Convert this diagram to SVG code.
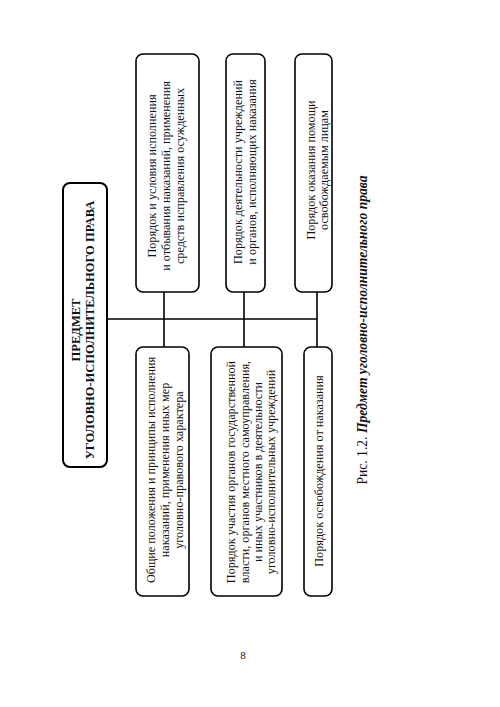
<svg xmlns="http://www.w3.org/2000/svg" width="500" height="707" viewBox="0 0 500 707">
<style>
.box{fill:#fff;stroke:#000;stroke-width:1.6}
.main{fill:#fff;stroke:#000;stroke-width:2}
.t{font-family:"Liberation Serif","Times New Roman",serif;font-size:12.2px;fill:#111;text-anchor:middle;dominant-baseline:central}
.b{font-weight:bold;font-size:12.5px}
.ln{stroke:#000;stroke-width:1.6;fill:none}
</style>
<rect width="500" height="707" fill="#fff"/>
<g id="connectors">
<line class="ln" x1="107" y1="319" x2="317" y2="319"/>
<line class="ln" x1="164" y1="292" x2="164" y2="347"/>
<line class="ln" x1="244" y1="292" x2="244" y2="347"/>
<line class="ln" x1="317" y1="292" x2="317" y2="347"/>
</g>
<g id="main">
<rect class="main" x="63" y="183" width="44" height="284" rx="7"/>
<text class="t b" transform="translate(83,330) rotate(-90)"><tspan x="0" y="-7">ПРЕДМЕТ</tspan><tspan x="0" y="7">УГОЛОВНО-ИСПОЛНИТЕЛЬНОГО ПРАВА</tspan></text>
</g>
<g id="top1">
<rect class="box" x="136" y="54" width="63" height="238" rx="7"/>
<text class="t" transform="translate(166,176) rotate(-90)"><tspan x="0" y="-14">Порядок и условия исполнения</tspan><tspan x="0" y="0">и отбывания наказаний, применения</tspan><tspan x="0" y="14">средств исправления осужденных</tspan></text>
</g>
<g id="top2">
<rect class="box" x="226" y="54" width="39" height="238" rx="7"/>
<text class="t" transform="translate(245,172) rotate(-90)"><tspan x="0" y="-7">Порядок деятельности учреждений</tspan><tspan x="0" y="7">и органов, исполняющих наказания</tspan></text>
</g>
<g id="top3">
<rect class="box" x="295" y="54" width="37" height="238" rx="7"/>
<text class="t" transform="translate(317,170) rotate(-90)"><tspan x="0" y="-6">Порядок оказания помощи</tspan><tspan x="0" y="7">освобождаемым лицам</tspan></text>
</g>
<g id="bottom1">
<rect class="box" x="136" y="347" width="53" height="249" rx="7"/>
<text class="t" transform="translate(165,470) rotate(-90)"><tspan x="0" y="-14">Общие положения и принципы исполнения</tspan><tspan x="0" y="0">наказаний, применения иных мер</tspan><tspan x="0" y="14">уголовно-правового характера</tspan></text>
</g>
<g id="bottom2">
<rect class="box" x="211" y="347" width="71" height="249" rx="7"/>
<text class="t" transform="translate(251,472) rotate(-90)"><tspan x="0" y="-20">Порядок участия органов государственной</tspan><tspan x="0" y="-6.5">власти, органов местного самоуправления,</tspan><tspan x="0" y="6.5">и иных участников в деятельности</tspan><tspan x="0" y="20">уголовно-исполнительных учреждений</tspan></text>
</g>
<g id="bottom3">
<rect class="box" x="304" y="347" width="28" height="249" rx="7"/>
<text class="t" transform="translate(319,471) rotate(-90)">Порядок освобождения от наказания</text>
</g>
<text class="t" transform="translate(362,330) rotate(-90)" style="font-size:13.6px">Рис. 1.2. <tspan font-weight="bold" font-style="italic">Предмет уголовно-исполнительного права</tspan></text>
<text class="t" x="243" y="655" style="font-size:11px">8</text>
</svg>
